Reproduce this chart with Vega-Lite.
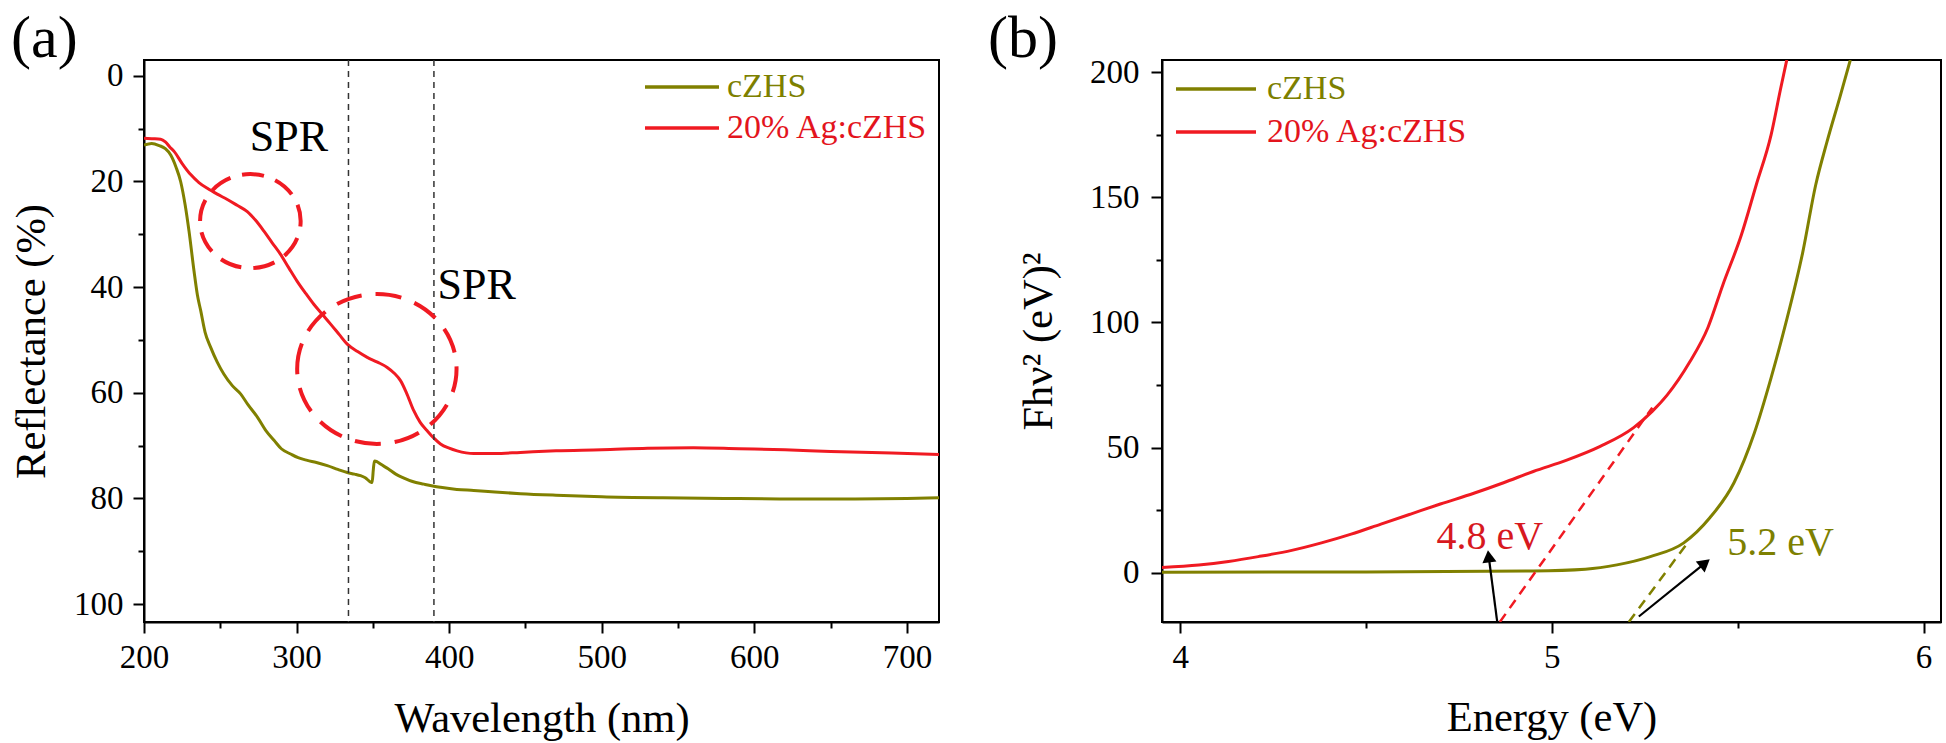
{
  "$schema": "https://vega.github.io/schema/vega-lite/v6.json",
  "background": "white",
  "padding": {"left": 9, "top": 7, "right": 5, "bottom": 2},
  "config": {
    "view": {"stroke": "black", "strokeWidth": 2},
    "font": "Liberation Serif, Times New Roman, Times, DejaVu Serif, serif",
    "axis": {
      "grid": false, "domainColor": "black", "domainWidth": 2,
      "tickColor": "black", "tickWidth": 2,
      "labelColor": "black", "titleColor": "black",
      "labelFont": "Liberation Serif, Times New Roman, Times, DejaVu Serif, serif",
      "titleFont": "Liberation Serif, Times New Roman, Times, DejaVu Serif, serif",
      "labelFontSize": 33, "titleFontSize": 42.5, "titleFontWeight": "normal",
      "labelOverlap": false, "labelFlush": false, "labelBound": false
    },
    "legend": {"labelFont": "Liberation Serif, Times New Roman, Times, DejaVu Serif, serif", "labelLimit": 0}
  },
  "datasets": {
    "a": [
      {"series": "cZHS", "x": 200, "y": 13.1}, {"series": "cZHS", "x": 205, "y": 12.8}, {"series": "cZHS", "x": 210, "y": 13.2},
      {"series": "cZHS", "x": 214, "y": 13.8}, {"series": "cZHS", "x": 217.5, "y": 15.0}, {"series": "cZHS", "x": 221, "y": 17.3},
      {"series": "cZHS", "x": 224, "y": 20.0}, {"series": "cZHS", "x": 227, "y": 24.5}, {"series": "cZHS", "x": 229.5, "y": 29.4},
      {"series": "cZHS", "x": 232.8, "y": 37.0}, {"series": "cZHS", "x": 235, "y": 41.5}, {"series": "cZHS", "x": 237.2, "y": 44.5},
      {"series": "cZHS", "x": 240, "y": 48.5}, {"series": "cZHS", "x": 243.7, "y": 51.4}, {"series": "cZHS", "x": 248, "y": 54.2},
      {"series": "cZHS", "x": 252.4, "y": 56.5}, {"series": "cZHS", "x": 258, "y": 58.7}, {"series": "cZHS", "x": 263.3, "y": 60.2},
      {"series": "cZHS", "x": 268, "y": 62.2}, {"series": "cZHS", "x": 274.3, "y": 64.6}, {"series": "cZHS", "x": 280, "y": 67.2},
      {"series": "cZHS", "x": 285.2, "y": 69.0}, {"series": "cZHS", "x": 290, "y": 70.6}, {"series": "cZHS", "x": 296.1, "y": 71.6},
      {"series": "cZHS", "x": 301, "y": 72.3}, {"series": "cZHS", "x": 307, "y": 72.8}, {"series": "cZHS", "x": 313, "y": 73.2},
      {"series": "cZHS", "x": 320.1, "y": 73.8}, {"series": "cZHS", "x": 327, "y": 74.5}, {"series": "cZHS", "x": 333.2, "y": 75.1},
      {"series": "cZHS", "x": 338, "y": 75.4}, {"series": "cZHS", "x": 341.9, "y": 75.7}, {"series": "cZHS", "x": 345, "y": 76.1},
      {"series": "cZHS", "x": 348.5, "y": 76.9}, {"series": "cZHS", "x": 349.5, "y": 77.0}, {"series": "cZHS", "x": 350.3, "y": 74.5},
      {"series": "cZHS", "x": 351, "y": 72.9}, {"series": "cZHS", "x": 353, "y": 73.1}, {"series": "cZHS", "x": 355, "y": 73.5},
      {"series": "cZHS", "x": 360, "y": 74.4}, {"series": "cZHS", "x": 365, "y": 75.4}, {"series": "cZHS", "x": 370, "y": 76.1},
      {"series": "cZHS", "x": 376, "y": 76.8}, {"series": "cZHS", "x": 383.4, "y": 77.3}, {"series": "cZHS", "x": 390, "y": 77.7},
      {"series": "cZHS", "x": 394.3, "y": 77.9}, {"series": "cZHS", "x": 405, "y": 78.3}, {"series": "cZHS", "x": 416.1, "y": 78.5},
      {"series": "cZHS", "x": 430, "y": 78.8}, {"series": "cZHS", "x": 446.7, "y": 79.1}, {"series": "cZHS", "x": 470, "y": 79.4},
      {"series": "cZHS", "x": 500, "y": 79.7}, {"series": "cZHS", "x": 540, "y": 79.9}, {"series": "cZHS", "x": 580, "y": 80.0},
      {"series": "cZHS", "x": 620, "y": 80.1}, {"series": "cZHS", "x": 660, "y": 80.1}, {"series": "cZHS", "x": 700, "y": 80.0},
      {"series": "cZHS", "x": 721, "y": 79.9},
      {"series": "20% Ag:cZHS", "x": 200, "y": 11.8}, {"series": "20% Ag:cZHS", "x": 205, "y": 11.9}, {"series": "20% Ag:cZHS", "x": 210.9, "y": 12.0},
      {"series": "20% Ag:cZHS", "x": 214, "y": 12.5}, {"series": "20% Ag:cZHS", "x": 217, "y": 13.5}, {"series": "20% Ag:cZHS", "x": 219.7, "y": 14.3},
      {"series": "20% Ag:cZHS", "x": 225, "y": 16.6}, {"series": "20% Ag:cZHS", "x": 230.6, "y": 18.7}, {"series": "20% Ag:cZHS", "x": 236, "y": 20.2},
      {"series": "20% Ag:cZHS", "x": 241.5, "y": 21.3}, {"series": "20% Ag:cZHS", "x": 248, "y": 22.4}, {"series": "20% Ag:cZHS", "x": 254.6, "y": 23.4},
      {"series": "20% Ag:cZHS", "x": 261, "y": 24.5}, {"series": "20% Ag:cZHS", "x": 267.7, "y": 25.7}, {"series": "20% Ag:cZHS", "x": 273, "y": 27.3},
      {"series": "20% Ag:cZHS", "x": 278.6, "y": 29.4}, {"series": "20% Ag:cZHS", "x": 284, "y": 31.6}, {"series": "20% Ag:cZHS", "x": 289.5, "y": 33.8},
      {"series": "20% Ag:cZHS", "x": 295, "y": 36.4}, {"series": "20% Ag:cZHS", "x": 300.4, "y": 38.9}, {"series": "20% Ag:cZHS", "x": 306, "y": 41.2},
      {"series": "20% Ag:cZHS", "x": 311.4, "y": 43.3}, {"series": "20% Ag:cZHS", "x": 317, "y": 45.2}, {"series": "20% Ag:cZHS", "x": 322.3, "y": 47.0},
      {"series": "20% Ag:cZHS", "x": 328, "y": 49.0}, {"series": "20% Ag:cZHS", "x": 333.2, "y": 50.8}, {"series": "20% Ag:cZHS", "x": 340, "y": 52.2},
      {"series": "20% Ag:cZHS", "x": 346.3, "y": 53.3}, {"series": "20% Ag:cZHS", "x": 353, "y": 54.2}, {"series": "20% Ag:cZHS", "x": 359.4, "y": 55.2},
      {"series": "20% Ag:cZHS", "x": 364, "y": 56.3}, {"series": "20% Ag:cZHS", "x": 368.1, "y": 57.7}, {"series": "20% Ag:cZHS", "x": 372, "y": 60.0},
      {"series": "20% Ag:cZHS", "x": 376.8, "y": 63.4}, {"series": "20% Ag:cZHS", "x": 381, "y": 65.6}, {"series": "20% Ag:cZHS", "x": 385.6, "y": 67.2},
      {"series": "20% Ag:cZHS", "x": 390, "y": 68.6}, {"series": "20% Ag:cZHS", "x": 394.3, "y": 69.7}, {"series": "20% Ag:cZHS", "x": 400, "y": 70.5},
      {"series": "20% Ag:cZHS", "x": 405.2, "y": 71.0}, {"series": "20% Ag:cZHS", "x": 416.1, "y": 71.5}, {"series": "20% Ag:cZHS", "x": 430, "y": 71.5},
      {"series": "20% Ag:cZHS", "x": 446.7, "y": 71.3}, {"series": "20% Ag:cZHS", "x": 470, "y": 71.0}, {"series": "20% Ag:cZHS", "x": 500, "y": 70.8},
      {"series": "20% Ag:cZHS", "x": 530, "y": 70.5}, {"series": "20% Ag:cZHS", "x": 560, "y": 70.4}, {"series": "20% Ag:cZHS", "x": 590, "y": 70.6},
      {"series": "20% Ag:cZHS", "x": 620, "y": 70.8}, {"series": "20% Ag:cZHS", "x": 650, "y": 71.1}, {"series": "20% Ag:cZHS", "x": 690, "y": 71.4},
      {"series": "20% Ag:cZHS", "x": 721, "y": 71.7}
    ],
    "b": [
      {"series": "cZHS", "x": 3.951, "y": 0.3}, {"series": "cZHS", "x": 4.5, "y": 0.4}, {"series": "cZHS", "x": 4.95, "y": 0.8},
      {"series": "cZHS", "x": 5.09, "y": 1.5}, {"series": "cZHS", "x": 5.175, "y": 3.2}, {"series": "cZHS", "x": 5.265, "y": 6.5},
      {"series": "cZHS", "x": 5.355, "y": 12}, {"series": "cZHS", "x": 5.425, "y": 22}, {"series": "cZHS", "x": 5.49, "y": 36},
      {"series": "cZHS", "x": 5.545, "y": 56}, {"series": "cZHS", "x": 5.59, "y": 78}, {"series": "cZHS", "x": 5.63, "y": 100},
      {"series": "cZHS", "x": 5.675, "y": 128}, {"series": "cZHS", "x": 5.71, "y": 155}, {"series": "cZHS", "x": 5.74, "y": 172},
      {"series": "cZHS", "x": 5.775, "y": 190}, {"series": "cZHS", "x": 5.803, "y": 204.8},
      {"series": "20% Ag:cZHS", "x": 3.951, "y": 2.2}, {"series": "20% Ag:cZHS", "x": 4.05, "y": 3.2}, {"series": "20% Ag:cZHS", "x": 4.13, "y": 4.6},
      {"series": "20% Ag:cZHS", "x": 4.21, "y": 6.5}, {"series": "20% Ag:cZHS", "x": 4.3, "y": 9.0}, {"series": "20% Ag:cZHS", "x": 4.38, "y": 12.0},
      {"series": "20% Ag:cZHS", "x": 4.46, "y": 15.5}, {"series": "20% Ag:cZHS", "x": 4.54, "y": 19.5}, {"series": "20% Ag:cZHS", "x": 4.62, "y": 23.5},
      {"series": "20% Ag:cZHS", "x": 4.7, "y": 27.5}, {"series": "20% Ag:cZHS", "x": 4.79, "y": 31.8}, {"series": "20% Ag:cZHS", "x": 4.87, "y": 36},
      {"series": "20% Ag:cZHS", "x": 4.95, "y": 40.5}, {"series": "20% Ag:cZHS", "x": 5.04, "y": 45}, {"series": "20% Ag:cZHS", "x": 5.13, "y": 50.5},
      {"series": "20% Ag:cZHS", "x": 5.22, "y": 58}, {"series": "20% Ag:cZHS", "x": 5.27, "y": 64.5}, {"series": "20% Ag:cZHS", "x": 5.31, "y": 71},
      {"series": "20% Ag:cZHS", "x": 5.37, "y": 84}, {"series": "20% Ag:cZHS", "x": 5.42, "y": 98}, {"series": "20% Ag:cZHS", "x": 5.46, "y": 115},
      {"series": "20% Ag:cZHS", "x": 5.51, "y": 135}, {"series": "20% Ag:cZHS", "x": 5.55, "y": 155}, {"series": "20% Ag:cZHS", "x": 5.59, "y": 175},
      {"series": "20% Ag:cZHS", "x": 5.615, "y": 193}, {"series": "20% Ag:cZHS", "x": 5.632, "y": 204.8}
    ],
    "bfit": [
      {"series": "20% Ag:cZHS", "x": 4.86, "y": -19.6}, {"series": "20% Ag:cZHS", "x": 5.27, "y": 66},
      {"series": "cZHS", "x": 5.207, "y": -19.6}, {"series": "cZHS", "x": 5.365, "y": 12}
    ]
  },
  "bounds": "flush",
  "spacing": 223,
  "resolve": {"scale": {"x": "independent", "y": "independent", "color": "independent"}, "legend": {"color": "independent"}},
  "hconcat": [
    {
      "width": 795,
      "height": 562,
      "layer": [
        {
          "data": {"name": "a"},
          "mark": {"type": "line", "strokeWidth": 3, "clip": true, "interpolate": "monotone"},
          "encoding": {
            "x": {"field": "x", "type": "quantitative", "scale": {"domain": [200, 721], "nice": false, "zero": false},
              "axis": {"title": "Wavelength (nm)", "values": [200, 250, 300, 350, 400, 450, 500, 550, 600, 650, 700],
                "labelExpr": "datum.value % 100 === 0 ? datum.label : ''",
                "tickSize": {"condition": {"test": "datum.value % 100 === 0", "value": 11}, "value": 6},
                "labelPadding": 8, "titlePadding": 20, "minExtent": 55, "maxExtent": 55}},
            "y": {"field": "y", "type": "quantitative", "scale": {"domain": [-3, 103.4], "reverse": true, "nice": false, "zero": false},
              "axis": {"title": "Reflectance (%)", "values": [0, 10, 20, 30, 40, 50, 60, 70, 80, 90, 100],
                "labelExpr": "datum.value % 20 === 0 ? datum.label : ''",
                "tickSize": {"condition": {"test": "datum.value % 20 === 0", "value": 11}, "value": 6},
                "labelPadding": 10, "titlePadding": 21, "minExtent": 70, "maxExtent": 70}},
            "color": {"field": "series", "type": "nominal",
              "scale": {"domain": ["cZHS", "20% Ag:cZHS"], "range": ["#808000", "#f01a22"]},
              "legend": {"orient": "top-right", "offset": 10, "title": null, "padding": 0,
                "symbolType": "stroke", "symbolSize": 5476, "symbolStrokeWidth": 3.5, "clipHeight": 34,
                "labelFontSize": 34, "labelOffset": 6, "rowPadding": 7, "labelLimit": 0,
                "labelColor": {"expr": "datum.value === 'cZHS' ? '#7d8000' : '#e3141d'"}}}
          }
        },
        {
          "data": {"values": [{"x": 334}, {"x": 390}]},
          "mark": {"type": "rule", "strokeDash": [6, 5], "strokeWidth": 1.5, "color": "#333333"},
          "encoding": {"x": {"field": "x", "type": "quantitative"}}
        },
        {
          "data": {"values": [{"x": 269.7, "y": 27.5}]},
          "mark": {"type": "point", "shape": "M -1 0 A 1 0.934 0 1 1 1 0 A 1 0.934 0 1 1 -1 0 Z", "size": 10120, "filled": false, "color": "#f01a22", "strokeWidth": 4, "strokeDash": [22, 12], "opacity": 1},
          "encoding": {"x": {"field": "x", "type": "quantitative"}, "y": {"field": "y", "type": "quantitative"}}
        },
        {
          "data": {"values": [{"x": 352.6, "y": 55.5}]},
          "mark": {"type": "point", "shape": "M -1 0 A 1 0.94 0 1 1 1 0 A 1 0.94 0 1 1 -1 0 Z", "size": 25400, "filled": false, "color": "#f01a22", "strokeWidth": 4, "strokeDash": [26, 14], "opacity": 1},
          "encoding": {"x": {"field": "x", "type": "quantitative"}, "y": {"field": "y", "type": "quantitative"}}
        },
        {
          "data": {"values": [{"label": "SPR", "x": 295, "y": 14.3}, {"label": "SPR", "x": 418, "y": 42.3}]},
          "mark": {"type": "text", "fontSize": 44, "color": "black", "baseline": "alphabetic", "align": "center"},
          "encoding": {"x": {"field": "x", "type": "quantitative"}, "y": {"field": "y", "type": "quantitative"}, "text": {"field": "label"}}
        },
        {
          "data": {"values": [{"label": "(a)", "x": 112.9, "y": -3.57}]},
          "mark": {"type": "text", "fontSize": 60, "color": "black", "baseline": "alphabetic", "align": "left", "clip": false},
          "encoding": {"x": {"field": "x", "type": "quantitative"}, "y": {"field": "y", "type": "quantitative"}, "text": {"field": "label"}}
        }
      ]
    },
    {
      "width": 779,
      "height": 562,
      "layer": [
        {
          "data": {"name": "b"},
          "mark": {"type": "line", "strokeWidth": 3, "clip": true, "interpolate": "monotone"},
          "encoding": {
            "x": {"field": "x", "type": "quantitative", "scale": {"domain": [3.951, 6.047], "nice": false, "zero": false},
              "axis": {"title": "Energy (eV)", "values": [4, 4.5, 5, 5.5, 6], "format": "~g",
                "labelExpr": "datum.value % 1 === 0 ? datum.label : ''",
                "tickSize": {"condition": {"test": "datum.value % 1 === 0", "value": 11}, "value": 6},
                "labelPadding": 8, "titlePadding": 19, "minExtent": 55, "maxExtent": 55}},
            "y": {"field": "y", "type": "quantitative", "scale": {"domain": [-19.6, 204.8], "nice": false, "zero": false},
              "axis": {"title": "Fhν² (eV)²", "values": [0, 25, 50, 75, 100, 125, 150, 175, 200],
                "labelExpr": "datum.value % 50 === 0 ? datum.label : ''",
                "tickSize": {"condition": {"test": "datum.value % 50 === 0", "value": 11}, "value": 6},
                "labelPadding": 12, "titlePadding": 32, "minExtent": 70, "maxExtent": 70}},
            "color": {"field": "series", "type": "nominal",
              "scale": {"domain": ["cZHS", "20% Ag:cZHS"], "range": ["#808000", "#f01a22"]},
              "legend": {"orient": "top-left", "offset": 12, "title": null, "padding": 0,
                "symbolType": "stroke", "symbolSize": 6400, "symbolStrokeWidth": 3.5, "clipHeight": 34,
                "labelFontSize": 34, "labelOffset": 9, "rowPadding": 9, "labelLimit": 0,
                "labelColor": {"expr": "datum.value === 'cZHS' ? '#7d8000' : '#e3141d'"}}}
          }
        },
        {
          "data": {"name": "bfit"},
          "mark": {"type": "line", "strokeWidth": 2.5, "strokeDash": [10, 7], "clip": true},
          "encoding": {
            "x": {"field": "x", "type": "quantitative"},
            "y": {"field": "y", "type": "quantitative"},
            "color": {"field": "series", "type": "nominal"}
          }
        },
        {
          "data": {"values": [{"x": 4.853, "y": -19.6, "x2": 4.83, "y2": 6.6}, {"x": 5.234, "y": -17.4, "x2": 5.412, "y2": 3.9}]},
          "mark": {"type": "rule", "strokeWidth": 2.2, "color": "black", "clip": true},
          "encoding": {"x": {"field": "x", "type": "quantitative"}, "y": {"field": "y", "type": "quantitative"}, "x2": {"field": "x2"}, "y2": {"field": "y2"}}
        },
        {
          "data": {"values": [{"x": 4.83, "y": 6.6}]},
          "mark": {"type": "point", "shape": "triangle-up", "size": 200, "filled": true, "color": "black", "opacity": 1, "angle": -7},
          "encoding": {"x": {"field": "x", "type": "quantitative"}, "y": {"field": "y", "type": "quantitative"}}
        },
        {
          "data": {"values": [{"x": 5.412, "y": 3.9}]},
          "mark": {"type": "point", "shape": "triangle-up", "size": 200, "filled": true, "color": "black", "opacity": 1, "angle": 51},
          "encoding": {"x": {"field": "x", "type": "quantitative"}, "y": {"field": "y", "type": "quantitative"}}
        },
        {
          "data": {"values": [{"label": "4.8 eV", "x": 4.833, "y": 9.7}]},
          "mark": {"type": "text", "fontSize": 40, "color": "#d7191f", "baseline": "alphabetic", "align": "center"},
          "encoding": {"x": {"field": "x", "type": "quantitative"}, "y": {"field": "y", "type": "quantitative"}, "text": {"field": "label"}}
        },
        {
          "data": {"values": [{"label": "5.2 eV", "x": 5.615, "y": 7.1}]},
          "mark": {"type": "text", "fontSize": 40, "color": "#7d8000", "baseline": "alphabetic", "align": "center"},
          "encoding": {"x": {"field": "x", "type": "quantitative"}, "y": {"field": "y", "type": "quantitative"}, "text": {"field": "label"}}
        },
        {
          "data": {"values": [{"label": "(b)", "x": 3.483, "y": 206.0}]},
          "mark": {"type": "text", "fontSize": 60, "color": "black", "baseline": "alphabetic", "align": "left", "clip": false},
          "encoding": {"x": {"field": "x", "type": "quantitative"}, "y": {"field": "y", "type": "quantitative"}, "text": {"field": "label"}}
        }
      ]
    }
  ]
}
